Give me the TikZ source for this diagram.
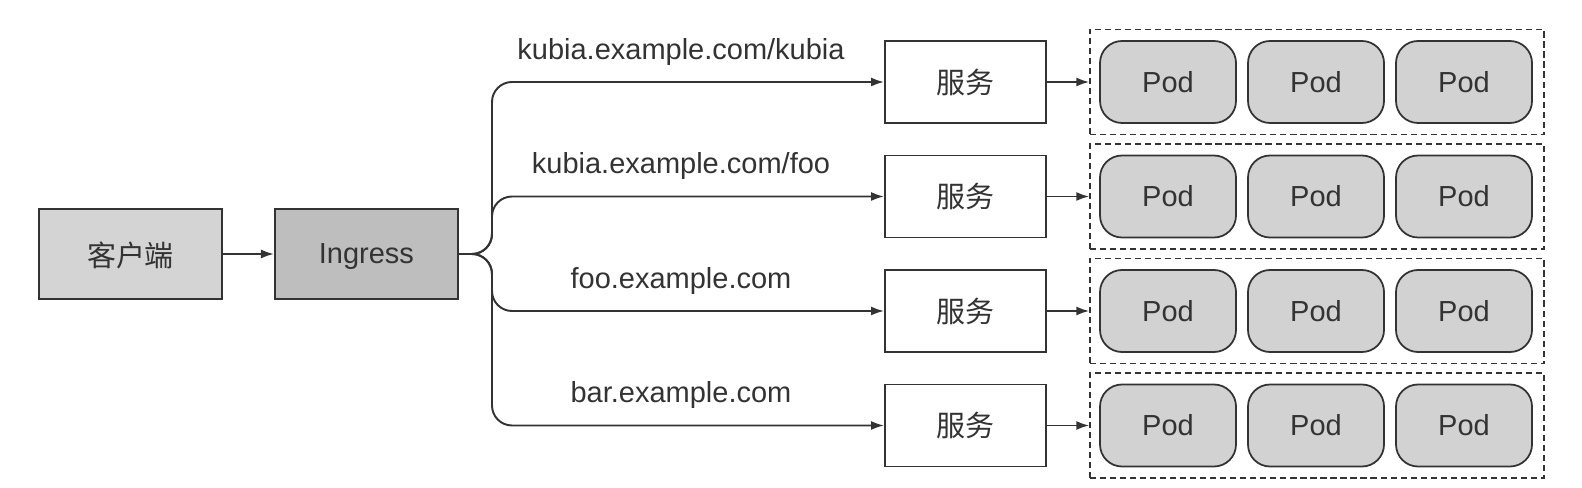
\documentclass[tikz,border=0pt]{standalone}
\usepackage{fontspec}
\setmainfont{Liberation Sans}
\newfontfamily\cjk{Noto Sans CJK SC}
\usetikzlibrary{
    positioning,
    arrows.meta
}
\definecolor{lineGray}{RGB}{51, 51, 51}
\definecolor{fillLight}{RGB}{212, 212, 212}
\definecolor{fillDark}{RGB}{190, 190, 190}
\definecolor{fillPod}{RGB}{210, 210, 210}

\tikzset{
    box/.style={draw=lineGray, line width=1.1pt, text=lineGray, text depth=0pt,
        minimum width=3.66cm, minimum height=1.8cm},
    svcbox/.style={draw=lineGray, line width=1.1pt, fill=white, text=lineGray,
        minimum width=3.22cm, minimum height=1.64cm},
    podbox/.style={draw=lineGray, line width=1pt, fill=fillPod, text=lineGray,
        rounded corners=0.44cm, minimum width=2.72cm, minimum height=1.64cm},
    groupbox/.style={draw=lineGray, line width=0.8pt, dash pattern=on 3.5pt off 2.2pt,
        minimum width=9.08cm, minimum height=2.1cm},
    link/.style={draw=lineGray, line width=1.1pt, -{Latex[length=0.26cm, width=0.18cm]}}
}

\begin{document}
\begin{tikzpicture}[font=\fontsize{16.5}{20}\selectfont]
            \useasboundingbox (0,0) rectangle (31.64, 9.76);

            % 客户端 と Ingress
            \node[box, fill=fillLight] (client) at (2.61, 4.68) {\cjk 客户端};
            \node[box, fill=fillDark, right=1.02cm of client] (ingress) {Ingress};
            \draw[link] (client) -- (ingress);

            % 分岐点
            \coordinate (jct) at (9.84, 4.68);

            % 各ホストごとの服务と Pod
            \foreach \i/\y/\host in {1/8.12/{kubia.example.com/kubia},
                                     2/5.83/{kubia.example.com/foo},
                                     3/3.54/{foo.example.com},
                                     4/1.25/{bar.example.com}} {
                \node[svcbox] (svc\i) at (19.31, \y) {\cjk 服务};
                \node[groupbox] (grp\i) at (26.34, \y) {};
                \foreach \j/\x in {1/23.36, 2/26.32, 3/29.28} {
                    \node[podbox] (pod\i\j) at (\x, \y) {Pod};
                }
                \draw[link] (svc\i) -- (grp\i);
                \draw[link, rounded corners=0.4cm] (ingress.east) -- (jct) |- (svc\i.west);
                \node[text=lineGray] (host\i) at (13.62, \y+0.6) {\host};
            }
        \end{tikzpicture}
\end{document}
